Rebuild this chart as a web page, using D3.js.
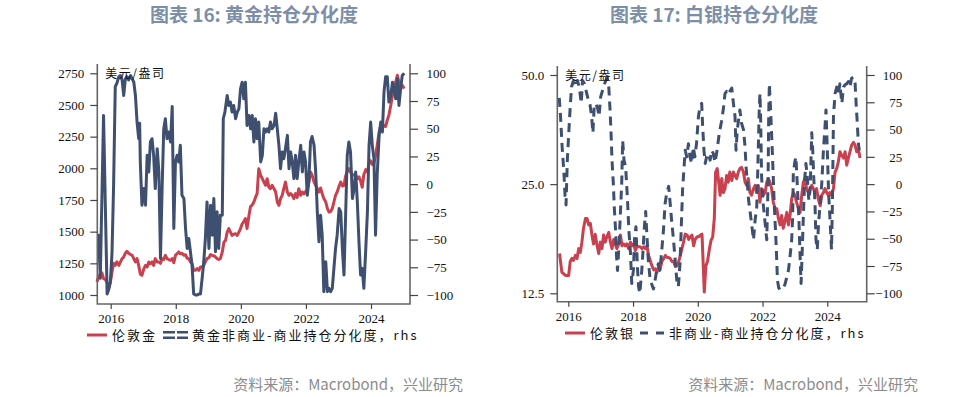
<!DOCTYPE html>
<html>
<head>
<meta charset="utf-8">
<script src="https://cdn.jsdelivr.net/npm/d3@7"></script>
<style>
body { margin: 0; background: #fff; }
.title { font-family: "Noto Sans CJK SC", sans-serif; font-weight: bold; font-size: 19px; fill: #7d8fa8; }
.source { font-family: "Noto Sans CJK SC", sans-serif; font-size: 15px; fill: #8c8c8c; }
.unit, .legend { font-family: "Noto Sans CJK SC", sans-serif; font-size: 13px; fill: #111; letter-spacing: 2px; }
.unit { font-size: 12px; letter-spacing: 1.5px; }
.axis text { font-family: "Liberation Serif", serif; font-size: 13px; fill: #111; }
.axis line { stroke: #444; stroke-width: 1.2; }
</style>
</head>
<body>
<div id="chart"></div>
<script>
// 年份刻度
var yearTicks = [2016, 2018, 2020, 2022, 2024];
var goldTicks = [1000, 1250, 1500, 1750, 2000, 2250, 2500, 2750];
var silverTicks = [12.5, 25, 50];
var posTicks = [-100, -75, -50, -25, 0, 25, 50, 75, 100];

// 伦敦金 (美元/盎司), [year, value]
var goldPrice = [
[2015.58,1103],[2015.63,1150],[2015.68,1155],[2015.73,1175],[2015.78,1130],[2015.84,1120],[2015.89,1100],
[2015.94,1055],[2015.99,1100],[2016.04,1180],[2016.09,1250],[2016.14,1234],[2016.19,1261],[2016.25,1234],
[2016.30,1261],[2016.35,1287],[2016.40,1300],[2016.45,1330],[2016.50,1345],[2016.55,1330],[2016.61,1320],
[2016.66,1313],[2016.71,1287],[2016.76,1261],[2016.81,1287],[2016.86,1234],[2016.91,1165],[2016.96,1155],
[2017.02,1208],[2017.07,1234],[2017.12,1221],[2017.17,1261],[2017.22,1247],[2017.27,1261],[2017.32,1234],
[2017.37,1287],[2017.43,1261],[2017.48,1261],[2017.53,1250],[2017.58,1287],[2017.63,1280],[2017.68,1313],
[2017.73,1287],[2017.78,1280],[2017.84,1274],[2017.89,1287],[2017.94,1255],[2017.99,1313],[2018.04,1326],
[2018.09,1340],[2018.14,1326],[2018.19,1330],[2018.25,1313],[2018.30,1318],[2018.35,1290],[2018.40,1287],
[2018.45,1261],[2018.50,1247],[2018.55,1195],[2018.61,1195],[2018.66,1208],[2018.71,1195],[2018.76,1221],
[2018.81,1221],[2018.86,1234],[2018.91,1261],[2018.96,1287],[2019.02,1295],[2019.07,1320],[2019.12,1313],
[2019.17,1310],[2019.22,1300],[2019.27,1287],[2019.32,1280],[2019.37,1287],[2019.43,1340],[2019.48,1418],
[2019.53,1430],[2019.58,1497],[2019.63,1524],[2019.68,1497],[2019.73,1471],[2019.78,1480],[2019.84,1484],
[2019.89,1470],[2019.94,1497],[2019.99,1524],[2020.04,1560],[2020.09,1580],[2020.14,1603],[2020.19,1524],
[2020.25,1629],[2020.30,1700],[2020.35,1710],[2020.40,1734],[2020.45,1770],[2020.50,1800],[2020.55,1997],
[2020.61,1945],[2020.66,1918],[2020.71,1892],[2020.76,1866],[2020.81,1918],[2020.86,1853],[2020.91,1839],
[2020.96,1866],[2021.02,1839],[2021.07,1813],[2021.12,1734],[2021.17,1708],[2021.22,1761],[2021.27,1787],
[2021.32,1839],[2021.37,1892],[2021.43,1813],[2021.48,1787],[2021.53,1800],[2021.58,1787],[2021.63,1761],
[2021.68,1800],[2021.73,1770],[2021.78,1839],[2021.84,1787],[2021.89,1813],[2021.94,1800],[2021.99,1815],
[2022.04,1839],[2022.09,1892],[2022.14,1971],[2022.19,1945],[2022.25,1892],[2022.30,1866],[2022.35,1839],
[2022.40,1813],[2022.45,1845],[2022.50,1800],[2022.55,1761],[2022.61,1734],[2022.66,1682],[2022.71,1655],
[2022.76,1660],[2022.81,1682],[2022.86,1734],[2022.91,1787],[2022.96,1813],[2023.02,1860],[2023.07,1892],
[2023.12,1860],[2023.17,1866],[2023.22,1940],[2023.27,1975],[2023.32,1997],[2023.37,1971],[2023.43,1945],
[2023.48,1950],[2023.53,1945],[2023.58,1918],[2023.63,1932],[2023.68,1900],[2023.73,1850],[2023.78,1950],
[2023.84,1990],[2023.89,1971],[2023.94,2040],[2023.99,2060],[2024.04,2030],[2024.09,2040],[2024.14,2100],
[2024.19,2180],[2024.25,2287],[2024.30,2339],[2024.35,2313],[2024.40,2339],[2024.45,2330],[2024.50,2380],
[2024.55,2420],[2024.61,2500],[2024.66,2576],[2024.71,2629],[2024.76,2682],[2024.81,2734],[2024.86,2680],
[2024.91,2650],[2024.96,2655],[2025.02,2629]
];

// 黄金非商业-商业持仓分化度, rhs
var goldPos = [
[2015.59,-46],[2015.63,-46],[2015.68,-85],[2015.78,62],[2015.89,-99],[2015.94,-95],[2015.99,-88],
[2016.04,-62],[2016.09,0],[2016.14,88],[2016.19,91],[2016.25,97],[2016.30,98],[2016.35,94],[2016.40,80],
[2016.45,95],[2016.50,97],[2016.55,94],[2016.61,98],[2016.66,95],[2016.71,92],[2016.76,80],[2016.81,56],
[2016.86,41],[2016.89,55],[2016.91,20],[2016.96,-19],[2017.02,-4],[2017.07,-19],[2017.12,26],[2017.17,11],
[2017.22,38],[2017.27,41],[2017.32,26],[2017.37,-4],[2017.43,32],[2017.48,11],[2017.53,-67],[2017.58,-4],
[2017.63,50],[2017.68,59],[2017.73,41],[2017.78,47],[2017.84,38],[2017.89,70],[2017.94,-40],[2017.99,20],
[2018.04,26],[2018.09,20],[2018.14,35],[2018.19,-10],[2018.25,-13],[2018.30,-40],[2018.35,-58],[2018.40,-49],
[2018.45,-61],[2018.50,-73],[2018.55,-99],[2018.61,-100],[2018.66,-100],[2018.71,-99],[2018.76,-99],
[2018.81,-85],[2018.86,-70],[2018.91,-49],[2018.96,-16],[2019.02,-58],[2019.07,-19],[2019.12,-46],
[2019.17,-13],[2019.22,-61],[2019.27,-25],[2019.32,-58],[2019.37,-28],[2019.43,-28],[2019.46,59],
[2019.51,65],[2019.58,80],[2019.63,71],[2019.68,74],[2019.73,65],[2019.78,71],[2019.84,59],[2019.89,65],
[2019.94,68],[2019.99,86],[2020.04,92],[2020.09,77],[2020.14,92],[2020.19,53],[2020.25,62],[2020.30,50],
[2020.35,62],[2020.40,38],[2020.45,59],[2020.50,41],[2020.55,56],[2020.61,20],[2020.66,26],[2020.71,50],
[2020.76,47],[2020.81,50],[2020.86,47],[2020.91,56],[2020.96,50],[2021.02,53],[2021.07,64],[2021.12,50],
[2021.17,35],[2021.22,14],[2021.27,29],[2021.32,23],[2021.37,32],[2021.43,44],[2021.48,14],[2021.53,29],
[2021.58,20],[2021.63,5],[2021.68,26],[2021.73,5],[2021.78,20],[2021.84,35],[2021.89,11],[2021.94,29],
[2021.99,20],[2022.04,-10],[2022.09,2],[2022.14,38],[2022.19,43],[2022.25,35],[2022.30,11],[2022.35,-25],
[2022.40,-52],[2022.45,-28],[2022.50,-46],[2022.55,-97],[2022.61,-70],[2022.66,-97],[2022.71,-94],
[2022.76,-97],[2022.81,-94],[2022.86,-76],[2022.91,-58],[2022.96,-46],[2023.02,-22],[2023.07,-25],
[2023.12,-58],[2023.17,-82],[2023.22,-28],[2023.27,26],[2023.32,38],[2023.37,29],[2023.43,-13],[2023.48,-4],
[2023.53,11],[2023.58,-16],[2023.63,-52],[2023.68,-82],[2023.73,-76],[2023.78,-94],[2023.84,-58],
[2023.89,-25],[2023.94,35],[2023.99,56],[2024.04,35],[2024.09,23],[2024.14,-46],[2024.19,8],[2024.25,44],
[2024.30,56],[2024.35,47],[2024.40,83],[2024.45,97],[2024.50,97],[2024.55,74],[2024.61,80],[2024.66,92],
[2024.71,86],[2024.76,77],[2024.81,95],[2024.86,71],[2024.91,86],[2024.96,98],[2025.02,100]
];

// 伦敦银 (美元/盎司)
var silverPrice = [
[2015.73,16.1],[2015.80,14.3],[2015.91,14.0],[2016.01,14.0],[2016.06,15.3],[2016.11,15.6],[2016.16,15.4],
[2016.22,15.9],[2016.27,15.6],[2016.32,16.6],[2016.37,16.2],[2016.42,17.3],[2016.47,18.9],[2016.53,20.1],
[2016.58,20.1],[2016.63,19.3],[2016.68,19.5],[2016.73,18.1],[2016.78,17.1],[2016.83,18.2],[2016.89,16.9],
[2016.94,16.1],[2016.99,17.3],[2017.04,16.6],[2017.09,18.1],[2017.14,17.3],[2017.19,17.9],[2017.25,18.4],
[2017.30,17.3],[2017.35,16.6],[2017.40,17.6],[2017.45,17.1],[2017.50,16.6],[2017.56,17.1],[2017.61,18.1],
[2017.66,16.9],[2017.71,17.1],[2017.76,16.9],[2017.81,17.1],[2017.86,16.6],[2017.92,17.3],[2017.97,16.9],
[2018.02,17.1],[2018.07,16.4],[2018.12,16.8],[2018.17,16.8],[2018.22,16.8],[2018.28,16.6],[2018.33,16.8],
[2018.38,16.6],[2018.43,16.9],[2018.48,15.9],[2018.53,15.4],[2018.58,14.9],[2018.64,14.5],[2018.69,14.6],
[2018.74,14.3],[2018.79,14.8],[2018.84,14.6],[2018.89,15.3],[2018.95,15.6],[2019.00,15.9],[2019.05,15.7],
[2019.10,15.7],[2019.15,15.6],[2019.20,15.3],[2019.25,15.3],[2019.31,14.8],[2019.36,14.9],[2019.41,15.3],
[2019.46,15.9],[2019.51,16.6],[2019.56,17.3],[2019.61,18.2],[2019.67,18.1],[2019.72,17.6],[2019.77,17.9],
[2019.82,18.1],[2019.87,16.9],[2019.92,17.6],[2019.98,17.9],[2020.03,17.9],[2020.08,18.1],[2020.13,18.2],
[2020.16,15.6],[2020.20,12.6],[2020.25,14.9],[2020.30,15.3],[2020.36,16.6],[2020.41,17.5],[2020.46,17.9],
[2020.51,20.1],[2020.55,27.0],[2020.60,27.6],[2020.69,23.3],[2020.74,25.9],[2020.79,23.7],[2020.84,24.3],
[2020.89,26.4],[2020.94,25.3],[2020.99,27.0],[2021.05,25.6],[2021.10,27.0],[2021.15,26.4],[2021.20,25.9],
[2021.25,27.0],[2021.30,27.6],[2021.35,27.8],[2021.41,27.0],[2021.46,25.3],[2021.51,24.8],[2021.56,25.9],
[2021.61,23.7],[2021.66,23.3],[2021.72,24.3],[2021.77,24.8],[2021.82,23.7],[2021.87,24.8],[2021.92,22.3],
[2021.97,24.3],[2022.02,23.3],[2022.08,23.7],[2022.13,25.3],[2022.18,25.9],[2022.23,25.3],[2022.28,24.3],
[2022.33,22.3],[2022.39,21.4],[2022.44,21.4],[2022.49,20.1],[2022.54,19.3],[2022.59,20.5],[2022.64,18.9],
[2022.69,19.7],[2022.75,20.9],[2022.80,19.3],[2022.85,20.5],[2022.90,22.8],[2022.95,23.7],[2023.00,23.3],
[2023.05,22.3],[2023.11,21.4],[2023.16,20.9],[2023.21,23.3],[2023.26,25.3],[2023.31,25.9],[2023.36,24.3],
[2023.42,23.7],[2023.47,24.3],[2023.52,24.8],[2023.57,24.3],[2023.62,23.7],[2023.67,24.3],[2023.72,22.8],
[2023.78,21.8],[2023.83,23.3],[2023.88,23.7],[2023.93,24.3],[2023.98,23.7],[2024.03,23.3],[2024.08,23.7],
[2024.13,23.3],[2024.19,24.3],[2024.24,27.0],[2024.29,27.6],[2024.34,28.8],[2024.39,30.7],[2024.44,30.1],
[2024.50,29.5],[2024.55,30.7],[2024.60,28.2],[2024.65,29.5],[2024.70,30.7],[2024.75,32.0],[2024.81,32.6],
[2024.86,32.0],[2024.91,30.7],[2024.96,31.3],[2025.01,29.5]
];

// 白银非商业-商业持仓分化度, rhs
var silverPos = [
[2015.72,79],[2015.76,62],[2015.81,34],[2015.86,13],[2015.90,-11],[2015.93,-19],[2015.97,22],[2016.02,50],
[2016.06,71],[2016.10,89],[2016.15,94],[2016.22,89],[2016.28,95],[2016.34,89],[2016.40,74],[2016.44,95],
[2016.50,92],[2016.57,83],[2016.62,77],[2016.67,73],[2016.72,62],[2016.76,47],[2016.80,71],[2016.85,74],
[2016.91,69],[2016.95,62],[2017.00,80],[2017.06,86],[2017.12,92],[2017.16,95],[2017.20,97],[2017.25,89],
[2017.29,68],[2017.32,47],[2017.35,22],[2017.39,1],[2017.42,-21],[2017.46,-42],[2017.49,-66],[2017.52,-79],
[2017.57,-54],[2017.60,-33],[2017.65,1],[2017.68,40],[2017.72,22],[2017.77,16],[2017.80,1],[2017.83,-15],
[2017.87,-42],[2017.92,-63],[2017.96,-91],[2018.01,-79],[2018.05,-48],[2018.09,-39],[2018.13,-73],
[2018.17,-94],[2018.21,-100],[2018.27,-79],[2018.31,-60],[2018.35,-39],[2018.39,-25],[2018.43,-48],
[2018.47,-69],[2018.52,-85],[2018.57,-91],[2018.63,-96],[2018.68,-88],[2018.73,-79],[2018.78,-73],
[2018.83,-79],[2018.88,-63],[2018.94,-42],[2018.99,-18],[2019.04,-8],[2019.10,-2],[2019.14,-15],
[2019.19,-33],[2019.24,-48],[2019.30,-69],[2019.35,-88],[2019.40,-94],[2019.45,-73],[2019.49,-39],
[2019.53,-5],[2019.57,13],[2019.61,31],[2019.66,25],[2019.71,37],[2019.76,25],[2019.81,19],[2019.86,34],
[2019.91,25],[2019.96,37],[2020.02,62],[2020.07,71],[2020.12,74],[2020.15,53],[2020.19,31],[2020.23,19],
[2020.27,25],[2020.33,28],[2020.38,22],[2020.43,31],[2020.48,28],[2020.53,20],[2020.58,28],[2020.67,48],
[2020.73,57],[2020.79,69],[2020.84,83],[2020.89,85],[2020.94,82],[2020.99,85],[2021.05,88],[2021.10,74],
[2021.15,62],[2021.18,31],[2021.22,50],[2021.26,59],[2021.30,68],[2021.35,56],[2021.41,50],[2021.46,34],
[2021.49,16],[2021.53,1],[2021.57,-15],[2021.61,-24],[2021.66,-36],[2021.72,-51],[2021.77,-33],
[2021.82,-21],[2021.85,10],[2021.88,47],[2021.90,71],[2021.92,83],[2021.94,62],[2021.97,7],[2022.02,-18],
[2022.08,-36],[2022.13,-51],[2022.17,1],[2022.19,62],[2022.21,92],[2022.24,74],[2022.27,53],[2022.30,31],
[2022.33,7],[2022.36,-18],[2022.40,-42],[2022.43,-63],[2022.46,-88],[2022.50,-95],[2022.54,-97],
[2022.59,-96],[2022.64,-95],[2022.69,-92],[2022.75,-85],[2022.80,-79],[2022.85,-66],[2022.90,-51],
[2022.93,-30],[2022.95,10],[2022.99,19],[2023.03,25],[2023.08,-5],[2023.12,-30],[2023.16,-66],[2023.19,-91],
[2023.23,-57],[2023.26,-30],[2023.30,4],[2023.34,19],[2023.38,7],[2023.43,-15],[2023.47,-5],[2023.52,47],
[2023.55,31],[2023.58,7],[2023.62,-18],[2023.65,-51],[2023.69,-60],[2023.73,-36],[2023.78,-18],[2023.83,1],
[2023.88,31],[2023.93,53],[2023.96,68],[2024.00,31],[2024.04,-8],[2024.08,-30],[2024.13,-60],[2024.16,-15],
[2024.19,62],[2024.24,83],[2024.29,89],[2024.34,83],[2024.39,92],[2024.45,74],[2024.50,89],[2024.55,91],
[2024.60,92],[2024.65,94],[2024.70,89],[2024.75,97],[2024.81,98],[2024.86,92],[2024.89,74],[2024.92,59],
[2024.96,37],[2024.99,31]
];

var width = 959;
var height = 397;
var redColor = "#c9404f";
var navyColor = "#3e4f70";
var axisColor = "#666";

var svg = d3.select("#chart").append("svg")
.attr("width", width)
.attr("height", height);

//gold panel
var gold = {
	title: "图表 16: 黄金持仓分化度",
	titleX: 254,
	left: 97.3, right: 410, top: 64, bottom: 304,
	x: d3.scaleLinear().domain([2016, 2024]).range([110.7, 371]),
	yL: d3.scaleLinear().domain([1000, 2750]).range([295, 73.3]),
	yR: d3.scaleLinear().domain([-100, 100]).range([295, 73.3]),
	leftTicks: goldTicks, leftFmt: d3.format("d"),
	rightAnchor: "start", rightX: 16.5,
	price: goldPrice, pos: goldPos, dashed: false,
	legendY: 335, redX: 87, redText: "伦敦金", iconX: 163, posText: "黄金非商业-商业持仓分化度，rhs",
	sourceX: 463
};

//silver panel
var silver = {
	title: "图表 17: 白银持仓分化度",
	titleX: 714,
	left: 557.3, right: 866.7, top: 66, bottom: 301.7,
	x: d3.scaleLinear().domain([2016, 2024]).range([568.3, 827.3]),
	yL: d3.scaleLog().domain([12.5, 50]).range([293.3, 75]),
	yR: d3.scaleLinear().domain([-100, 100]).range([293.3, 75]),
	leftTicks: silverTicks, leftFmt: d3.format(".1f"),
	rightAnchor: "end", rightX: 35.5,
	price: silverPrice, pos: silverPos, dashed: true,
	legendY: 333, redX: 565, redText: "伦敦银", iconX: 640, posText: "非商业-商业持仓分化度，rhs",
	sourceX: 918
};

drawPanel(gold);
drawPanel(silver);

function drawPanel(p) {
	var g = svg.append("g");

	g.append("text")
	.attr("class", "title")
	.attr("x", p.titleX)
	.attr("y", 22)
	.attr("text-anchor", "middle")
	.text(p.title);

	var priceLine = d3.line().x(d => p.x(d[0])).y(d => p.yL(d[1]));
	var posLine = d3.line().x(d => p.x(d[0])).y(d => p.yR(d[1]));

	g.append("path")
	.datum(p.price)
	.attr("d", priceLine)
	.attr("fill", "none")
	.attr("stroke", redColor)
	.attr("stroke-width", 3)
	.attr("stroke-linejoin", "round");

	g.append("path")
	.datum(p.pos)
	.attr("d", posLine)
	.attr("fill", "none")
	.attr("stroke", navyColor)
	.attr("stroke-width", 3)
	.attr("stroke-linejoin", "round")
	.attr("stroke-dasharray", p.dashed ? "9,6" : null);

	//frame: left, right, bottom
	g.append("path")
	.attr("d", "M" + p.left + "," + p.top + "V" + p.bottom + "H" + p.right + "V" + p.top)
	.attr("fill", "none")
	.attr("stroke", axisColor)
	.attr("stroke-width", 1.6);

	var axL = g.append("g")
	.attr("class", "axis")
	.attr("transform", "translate(" + p.left + ",0)")
	.call(d3.axisLeft(p.yL).tickValues(p.leftTicks).tickFormat(p.leftFmt).tickSize(7).tickPadding(6));
	axL.select(".domain").remove();

	var axR = g.append("g")
	.attr("class", "axis")
	.attr("transform", "translate(" + p.right + ",0)")
	.call(d3.axisRight(p.yR).tickValues(posTicks).tickFormat(d3.format("d")).tickSize(8));
	axR.select(".domain").remove();
	axR.selectAll("text").attr("x", p.rightX).attr("text-anchor", p.rightAnchor);

	var axB = g.append("g")
	.attr("class", "axis")
	.attr("transform", "translate(0," + p.bottom + ")")
	.call(d3.axisBottom(p.x).tickValues(yearTicks).tickFormat(d3.format("d")).tickSize(5).tickPadding(5));
	axB.select(".domain").remove();

	g.append("text")
	.attr("class", "unit")
	.attr("x", p.left + 8)
	.attr("y", p.top + 14)
	.text("美元/盎司");

	//legend
	var ly = p.legendY;
	g.append("line")
	.attr("x1", p.redX).attr("x2", p.redX + 20)
	.attr("y1", ly).attr("y2", ly)
	.attr("stroke", redColor).attr("stroke-width", 3);
	g.append("text")
	.attr("class", "legend")
	.attr("x", p.redX + 25).attr("y", ly + 5)
	.text(p.redText);

	if (p.dashed) {
		g.append("line")
		.attr("x1", p.iconX).attr("x2", p.iconX + 24)
		.attr("y1", ly).attr("y2", ly)
		.attr("stroke", navyColor).attr("stroke-width", 3)
		.attr("stroke-dasharray", "8,8");
	} else {
		[-2.8, 2.8].forEach(function(off) {
			g.append("line")
			.attr("x1", p.iconX).attr("x2", p.iconX + 25)
			.attr("y1", ly + off).attr("y2", ly + off)
			.attr("stroke", navyColor).attr("stroke-width", 2.6)
			.attr("stroke-dasharray", "12,2");
		});
	}
	g.append("text")
	.attr("class", "legend")
	.attr("x", p.iconX + 29).attr("y", ly + 5)
	.text(p.posText);

	g.append("text")
	.attr("class", "source")
	.attr("x", p.sourceX).attr("y", 390)
	.attr("text-anchor", "end")
	.text("资料来源：Macrobond，兴业研究");
}
</script>
</body>
</html>
